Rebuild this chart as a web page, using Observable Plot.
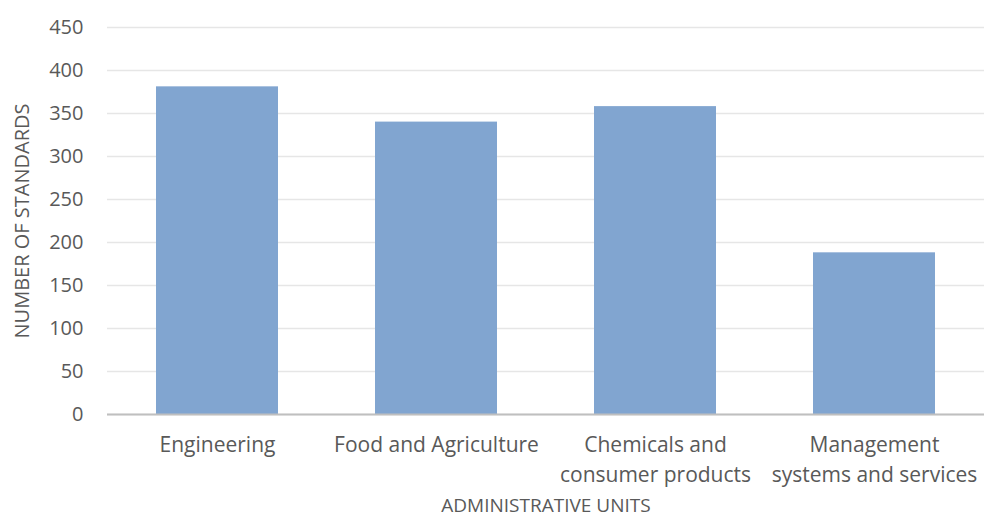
<!DOCTYPE html>
<html>
<head>
<meta charset="utf-8">
<script src="https://cdn.jsdelivr.net/npm/d3@7"></script>
<script src="https://cdn.jsdelivr.net/npm/@observablehq/plot@0.6"></script>
<style>
  html, body { margin: 0; padding: 0; background: #fff; }
  #chart svg { display: block; }
</style>
</head>
<body>
<div id="chart"></div>
<script>
const categories = [
  "Engineering",
  "Food and Agriculture",
  "Chemicals and\nconsumer products",
  "Management\nsystems and services"
];
const standards = [381, 340, 358, 188];
const yTicks = [0, 50, 100, 150, 200, 250, 300, 350, 400, 450];

const data = categories.map((c, i) => ({category: c, value: standards[i]}));

const chart = Plot.plot({
  width: 984,
  height: 520,
  marginLeft: 107,
  marginRight: 0,
  marginTop: 27,
  marginBottom: 106,
  style: {fontFamily: "'Open Sans', sans-serif", fontSize: "20px", color: "#595959", background: "#fff"},
  x: {domain: categories, paddingInner: 0.443, paddingOuter: 0.2215, label: null},
  y: {domain: [0, 450], label: null},
  marks: [
    Plot.gridY(yTicks, {stroke: "#e6e6e6", strokeOpacity: 1, strokeWidth: 1.5}),
    Plot.barY(data, {x: "category", y: "value", fill: "#81a5d0"}),
    Plot.ruleY([0], {stroke: "#bfbfbf", strokeWidth: 2}),
    Plot.axisY(yTicks, {tickSize: 0, tickPadding: 24, fontSize: 20, fill: "#595959", label: null}),
    Plot.axisX({tickSize: 0, tickPadding: 17, fontSize: 21, fill: "#595959", lineHeight: 1.4, label: null}),
    Plot.text(["NUMBER OF STANDARDS"], {frameAnchor: "left", textAnchor: "middle", dx: -85, rotate: -90, fontSize: 20, fill: "#595959"}),
    Plot.text(["ADMINISTRATIVE UNITS"], {frameAnchor: "bottom", dy: 97, fontSize: 19, fill: "#595959"})
  ]
});
document.getElementById("chart").appendChild(chart);
</script>
</body>
</html>
